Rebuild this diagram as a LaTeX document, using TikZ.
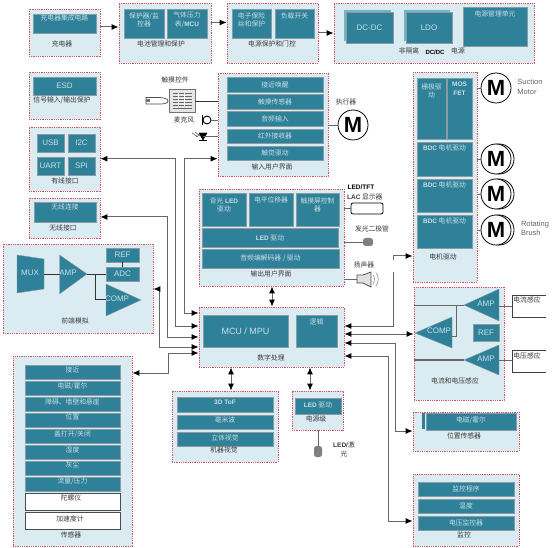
\documentclass[tikz,border=0pt]{standalone}
\usepackage{fontspec}
\setmainfont{Noto Sans CJK SC}
\newfontfamily\latn{Liberation Sans}
\usetikzlibrary{arrows.meta,calc}
\definecolor{panelfill}{HTML}{DAEBF2}
\definecolor{paneledge}{HTML}{D4505F}
\definecolor{teal}{HTML}{2E8199}
\definecolor{tealedge}{HTML}{8A9CA3}
\definecolor{blktext}{HTML}{C9DFE6}
\definecolor{lbltext}{HTML}{3A3A3A}
\definecolor{wire}{HTML}{666666}
\tikzset{
  panelbox/.style={draw=paneledge,fill=panelfill,line width=0.8pt,dash pattern=on 1pt off 0.8pt,inner sep=0pt},
  blockbox/.style={draw=tealedge,fill=teal,line width=0.9pt,inner sep=0pt},
  whitebox/.style={draw=black!70,fill=white,line width=0.9pt,inner sep=0pt},
  blocktext/.style={text=blktext,font=\fontsize{6.8}{8.6}\selectfont,align=center,inner sep=0pt},
  lbl/.style={text=lbltext,font=\fontsize{6.8}{8.6}\selectfont,align=center,inner sep=0pt},
  enlbl/.style={text=black!60,font=\fontsize{7.5}{9.5}\selectfont\latn,align=left,inner sep=0pt},
  latintext/.style={text=blktext,font=\fontsize{8}{9}\selectfont\latn,inner sep=0pt},
  tri/.style={fill=teal,draw=tealedge,line width=0.4pt},
  wireline/.style={draw=wire,line width=0.9pt},
  conn/.style={draw=wire,line width=1pt,-{Latex[black,length=7pt,width=6pt]}},
  conn2/.style={draw=wire,line width=1pt,{Latex[black,length=7pt,width=6pt]}-{Latex[black,length=7pt,width=6pt]}},
  motor/.style={circle,draw=black,fill=white,line width=0.8pt,minimum size=30pt,inner sep=0pt,font=\fontsize{22}{22}\selectfont\latn\bfseries},
}
\newcommand\bfl[1]{{\latn\bfseries\fontsize{6.5}{8}\selectfont #1}}
\newcommand\pnl[5]{%
  \pgfmathsetmacro\pw{#4-#2}\pgfmathsetmacro\ph{#5-#3}%
  \pgfmathsetmacro\cx{(#2+#4)/2}\pgfmathsetmacro\cy{(#3+#5)/2}%
  \node[panelbox,minimum width=\pw pt,minimum height=\ph pt] (#1) at (\cx,\cy) {};}
% centred text
\newcommand\blk[6]{%
  \pgfmathsetmacro\pw{#4-#2}\pgfmathsetmacro\ph{#5-#3}%
  \pgfmathsetmacro\cx{(#2+#4)/2}\pgfmathsetmacro\cy{(#3+#5)/2}%
  \node[blockbox,minimum width=\pw pt,minimum height=\ph pt,blocktext] (#1) at (\cx,\cy) {#6};}
% text at a given y
\newcommand\blkt[7]{%
  \pgfmathsetmacro\pw{#4-#2}\pgfmathsetmacro\ph{#5-#3}%
  \pgfmathsetmacro\cx{(#2+#4)/2}\pgfmathsetmacro\cy{(#3+#5)/2}%
  \node[blockbox,minimum width=\pw pt,minimum height=\ph pt] (#1) at (\cx,\cy) {};
  \node[blocktext] (#1t) at (\cx,#6) {#7};}
% latin centred text
\newcommand\blkl[6]{%
  \pgfmathsetmacro\pw{#4-#2}\pgfmathsetmacro\ph{#5-#3}%
  \pgfmathsetmacro\cx{(#2+#4)/2}\pgfmathsetmacro\cy{(#3+#5)/2}%
  \node[blockbox,minimum width=\pw pt,minimum height=\ph pt,latintext] (#1) at (\cx,\cy) {#6};}
\begin{document}
\begin{tikzpicture}[x=1pt,y=-1pt]
\fill[white] (0,0) rectangle (557,548);
\useasboundingbox (0,0) rectangle (557,548);

% ---------- panels
\pnl{charger}{29}{9}{100}{56}
\pnl{battery}{119}{3}{211}{63}
\pnl{protect}{227}{3}{318}{63}
\pnl{dcdc}{334}{3}{534}{63}
\pnl{esdp}{29}{72}{100}{119}
\pnl{wired}{29}{127}{100}{191}
\pnl{wireless}{29}{198}{100}{238}
\pnl{afe}{3}{244}{153}{333}
\pnl{sensors}{13}{356}{132}{546}
\pnl{inputui}{218}{73}{328}{176}
\pnl{outputui}{199}{189}{344}{286}
\pnl{digital}{199}{307}{344}{367}
\pnl{vision}{172}{391}{278}{462}
\pnl{powerlvl}{292}{391}{343}{430}
\pnl{motordrv}{413}{72}{477}{282}
\pnl{sense}{414}{287}{504}{400}
\pnl{position}{413}{412}{519}{451}
\pnl{monitor}{413}{474}{519}{546}

% ---------- charger, battery, protection
\blkt{b1}{33}{14}{96}{33}{18}{充电器集成电路}
\node[lbl] (l1) at (62,44) {充电器};
\blkt{b2}{124}{9}{164}{38}{20}{保护器/监\\控器}
\blkt{b3}{167}{9}{207}{38}{20}{气体压力\\表/\bfl{MCU}}
\node[lbl] (l2) at (161,44) {电池管理和保护};
\blkt{b4}{232}{9}{271}{38}{20}{电子保险\\丝和保护}
\blkt{b5}{275}{9}{314}{38}{16}{负载开关}
\node[lbl] (l3) at (272,44) {电源保护和门控};

% ---------- DC/DC
\fill[teal!55!panelfill] (344,10) rectangle (391,41);
\blkl{b6}{346}{12}{393}{43}{DC-DC}
\fill[teal!55!panelfill] (404,10) rectangle (450,41);
\blkl{b7}{406}{12}{452}{43}{LDO}
\blkt{b8}{463}{7}{527}{46}{14}{电源管理单元}
\node[lbl] (l4a) at (409,51) {非隔离};
\node[text=black,inner sep=0pt,font=\latn\bfseries\fontsize{6}{7}\selectfont] (l4b) at (435,52) {DC/DC};
\node[lbl] (l4c) at (458,51) {电源};

% ---------- ESD, wired, wireless
\blkl{b9}{33}{77}{96}{95}{ESD}
\node[lbl] (l5) at (62,100) {信号输入/输出保护};
\blkl{b10}{37}{134}{64}{152}{USB}
\blkl{b11}{68}{134}{95}{152}{I2C}
\blkl{b12}{37}{157}{64}{175}{UART}
\blkl{b13}{68}{157}{95}{175}{SPI}
\node[lbl] (l6) at (65,181) {有线接口};
\blkt{b14}{34}{202}{96}{222}{207}{无线连接}
\node[lbl] (l7) at (63,228) {无线接口};

% ---------- analog front end
\draw[tri] (17,255) coordinate (muxa) -- (44,259) -- (44,289) -- (17,293) -- cycle;
\node[latintext] (muxt) at (30,273) {MUX};
\coordinate (muxr) at (44,274);
\coordinate (ampin) at (60,274);
\coordinate (ampout) at (87,274);
\draw[tri] (59.5,255) -- (87,274) -- (59.5,294) -- cycle;
\node[latintext] (ampt) at (68,273) {AMP};
\blkl{b15}{106}{248}{139}{262}{REF}
\blkl{b16}{106}{267}{139}{281}{ADC}
\draw[tri] (106,284) -- (141,300) -- (106,316) -- cycle;
\node[latintext] (compt) at (117,299) {COMP};
\node[lbl] (l8) at (75,321) {前端模拟};
\draw[black!80,line width=0.8pt] (muxr) -- (ampin);
\draw[black!80,line width=0.8pt] (ampout) -- (b16.west |- ampout);
\coordinate (compin) at (106,299);
\draw[black!80,line width=0.8pt] (95,274) -- (95,299) -- (compin);
\draw[black!80,line width=0.8pt] (b15) -- (b16);

% ---------- sensors
\blkt{s1}{25}{365}{120}{379}{370}{接近}
\blkt{s2}{25}{381}{120}{395}{386}{电磁/霍尔}
\blkt{s3}{25}{397}{120}{411}{402}{障碍、墙壁和悬崖}
\blkt{s4}{25}{413}{120}{427}{417}{位置}
\blkt{s5}{25}{429}{120}{443}{434}{盖打开/关闭}
\blkt{s6}{25}{445}{120}{459}{450}{湿度}
\blkt{s7}{25}{461}{120}{475}{465}{灰尘}
\blkt{s8}{25}{477}{120}{491}{481}{流量/压力}
\node[whitebox,minimum width=95pt,minimum height=17pt] (s9) at (72.5,501.5) {};
\node[lbl] (s9t) at (71,498) {陀螺仪};
\node[whitebox,minimum width=95pt,minimum height=17pt] (s10) at (72.5,520.5) {};
\node[lbl] (s10t) at (70,519) {加速度计};
\node[lbl] (l9) at (71,535) {传感器};

% ---------- input UI
\blk{i1}{227}{77}{323}{92}{接近唤醒}
\blk{i2}{227}{94}{323}{109}{触摸传感器}
\blk{i3}{227}{111}{323}{126}{音频输入}
\blk{i4}{227}{129}{323}{143}{红外接收器}
\blk{i5}{227}{146}{323}{160}{触觉驱动}
\node[lbl] (l10) at (272,167) {输入用户界面};

% ---------- output UI
\blkt{o1}{202}{193}{246}{226}{205}{背光 \bfl{LED}\\驱动}
\blkt{o2}{249}{193}{293}{226}{200}{电平位移器}
\blkt{o3}{296}{193}{339}{226}{205}{触摸屏控制\\器}
\blk{o4}{202}{228}{338}{247}{\bfl{LED} 驱动}
\blk{o5}{202}{249}{339}{268}{音频编解码器 / 驱动}
\node[lbl] (l11) at (271,274) {输出用户界面};

% ---------- digital
\blkl{d1}{203}{315}{288}{347}{\fontsize{9}{10}\selectfont MCU / MPU}
\blkt{d2}{296}{315}{337}{347}{322}{逻辑}
\node[lbl] (l12) at (271,358) {数字处理};

% ---------- vision
\blkt{v1}{177}{397}{273}{412}{402}{\bfl{3D ToF}}
\blkt{v2}{177}{415}{273}{429}{420}{毫米波}
\blkt{v3}{177}{432}{273}{446}{438}{立体视觉}
\node[lbl] (l13) at (224,450) {机器视觉};

% ---------- power stage
\blkt{p1}{295}{398}{341}{414}{405}{\bfl{LED} 驱动}
\node[lbl] (l14) at (316,419) {电源级};

% ---------- motor drive
\blkt{m1}{417}{78}{446}{139}{91}{栅极驱\\动}
\blkt{m2}{447}{78}{472}{139}{89}{\bfl{MOS}\\\bfl{FET}}
\blkt{m3}{417}{142}{472}{176}{148}{\bfl{BDC} 电机驱动}
\blkt{m4}{417}{179}{472}{212}{185}{\bfl{BDC} 电机驱动}
\blkt{m5}{417}{215}{472}{248}{221}{\bfl{BDC} 电机驱动}
\node[lbl] (l15) at (443,257) {电机驱动};

% ---------- current / voltage sensing
\draw[tri] (464,305) -- (499,289) -- (499,321) -- cycle;
\node[latintext] (amp1t) at (486,304) {AMP};
\draw[tri] (415,333) -- (452,317) -- (452,348) -- cycle;
\node[latintext] (compt2) at (439,331) {COMP};
\blkl{b17}{473}{324}{499}{341}{REF}
\draw[tri] (464,360) -- (499,345) -- (499,375) -- cycle;
\node[latintext] (amp2t) at (486,359) {AMP};
\node[lbl] (l16) at (455,381) {电流和电压感应};
\coordinate (a1in) at (464,305);
\coordinate (a2in) at (464,360);
\coordinate (c1in) at (452,336);
\draw[wireline] (sense.west |- a1in) -- (a1in);
\draw[wireline,line width=1.3pt] (sense.west |- a2in) -- (a2in);
\draw[wireline] (456,305) -- (456,336) -- (c1in);
\coordinate (isense) at (512,306);
\coordinate (vsense) at (512,360);
\draw[wireline] (499,306) -- (isense);
\draw[wireline] (499,360) -- (vsense);
\draw[black!75,line width=0.7pt] (546,295) -- (512,295) -- (512,317) -- (546,317);
\draw[black!75,line width=0.7pt] (546,350) -- (512,350) -- (512,372) -- (546,372);
\node[lbl] (l17) at (527,300) {电流感应};
\node[lbl] (l18) at (527,356) {电压感应};

% ---------- position
\fill[teal] (422,413) rectangle (425,429);
\blkt{q1}{426}{413}{516}{430}{420}{电磁/霍尔}
\node[lbl] (l19) at (464,436) {位置传感器};

% ---------- monitor
\blk{r1}{418}{482}{514}{496}{监控程序}
\blk{r2}{418}{499}{514}{513}{温度}
\blk{r3}{418}{516}{514}{530}{电压监控器}
\node[lbl] (l20) at (464,535) {监控};

% ---------- connectors between panels
\draw[conn] (charger.east |- 0,27) -- (battery.west |- 0,27);
\draw[conn] (battery.east |- 0,22.5) -- (protect.west |- 0,22.5);
\draw[conn] (protect.east |- 0,33) -- (dcdc.west |- 0,33);

\draw[conn] (175,326) -- (175,158.7) -- (wired.east |- 0,158.7);
\draw[conn] (175,326) -- (digital.west |- 0,326);
\draw[conn] (184,313) -- (184,158.7) -- (inputui.west |- 0,158.7);
\draw[conn] (184,313) -- (digital.west |- 0,313);
\draw[conn] (167,337) -- (167,217) -- (wireless.east |- 0,217);
\draw[conn] (167,337) -- (digital.west |- 0,337);
\draw[conn2] (afe.east |- 0,289) -- (159,289) -- (159,347) -- (digital.west |- 0,347);
\draw[conn2] (sensors.east |- 0,373) -- (168,373) -- (168,353) -- (digital.west |- 0,353);

\draw[conn2] (outputui.south -| 272,0) -- (digital.north -| 272,0);
\draw[conn2] (digital.south -| 231,0) -- (vision.north -| 231,0);
\draw[conn2] (digital.south -| 310,0) -- (powerlvl.north -| 310,0);

\draw[wire,line width=1pt,{Latex[black,length=7pt,width=6pt]}-] (digital.east |- 0,326) -- (393,326) -- (393,272);
\draw[conn] (393,260) -- (393,256) -- (motordrv.west |- 0,256);
\draw[conn2] (digital.east |- 0,334) -- (sense.west |- 0,334);
\draw[conn2] (digital.east |- 0,343) -- (395,343) -- (395,431) -- (position.west |- 0,431);
\draw[conn2] (digital.east |- 0,356) -- (388,356) -- (388,521) -- (monitor.west |- 0,521);

% ---------- touch control
\node[lbl] (t1) at (175,80) {触摸控件};
\node[draw=black!55,fill=black!10,line width=0.8pt,minimum width=26pt,minimum height=23pt,inner sep=0pt] (keypad) at (182,100.5) {};
\foreach \yy in {93,96,99,102,105}{\draw[black!60,line width=0.7pt] (173,\yy) -- (192,\yy);}
\foreach \xx in {178,184}{\draw[white,line width=0.5pt] (\xx,92) -- (\xx,106);}
\draw[black!60,line width=1pt] (173,109) -- (192,109);
\draw[black!70,fill=white,line width=0.7pt] (146,97.5) -- (160,97.5) .. controls (165,98) and (168,99) .. (168,101) .. controls (168,103) and (165,104) .. (160,104) -- (146,104) -- cycle;
\fill[black!55] (146,99.5) rectangle (150,102);
\draw[black!80,line width=0.9pt] (keypad.east |- 0,101) -- (inputui.west |- 0,101);

\node[lbl] (t2) at (184,120) {麦克风};
\node[circle,draw=black,fill=white,line width=0.9pt,minimum size=8pt,inner sep=0pt] (mic) at (207,120) {};
\draw[black,line width=1pt] (202,115) -- (202,125);
\draw[wireline] (mic) -- (inputui.west |- mic);

\coordinate (diode) at (203,136);
\draw[black,fill=black] (199,133) -- (207,133) -- (203,140) -- cycle;
\draw[black,line width=0.8pt] (199,140) -- (207,140);
\draw[black!60,line width=0.6pt,-{Latex[length=2pt,width=2pt]}] (192,133) -- (198,137);
\draw[black!60,line width=0.6pt,-{Latex[length=2pt,width=2pt]}] (195,132) -- (200,136);
\draw[wireline] (diode) -- (inputui.west |- diode);

% ---------- actuator
\node[lbl] (t3) at (346,102) {执行器};
\node[motor] (ma) at (353,125) {M};
\draw[wireline] (inputui.east |- ma) -- (ma);

% ---------- motors
\node[motor] (mm1) at (496,88) {M};
\draw[wireline] (motordrv.east |- mm1) -- (mm1);
\node[enlbl] (t4) at (530,87) {Suction\\Motor};
\node[circle,draw=black,fill=white,line width=0.8pt,minimum size=30pt] (mm2b) at (499,159) {};
\node[motor] (mm2) at (496,159) {M};
\draw[wireline] (motordrv.east |- mm2) -- (mm2);
\node[circle,draw=black,fill=white,line width=0.8pt,minimum size=30pt] (mm3b) at (499,194) {};
\node[motor] (mm3) at (496,194) {M};
\draw[wireline] (motordrv.east |- mm3) -- (mm3);
\node[circle,draw=black,fill=white,line width=0.8pt,minimum size=30pt] (mm4b) at (499,230) {};
\node[motor] (mm4) at (496,230) {M};
\draw[wireline] (motordrv.east |- mm4) -- (mm4);
\node[enlbl] (t5) at (535,228.5) {Rotating\\Brush};

% ---------- display, LED, speaker
\node[inner sep=0pt,font=\latn\bfseries\fontsize{6.5}{8}\selectfont,text=black] (t6) at (361,187.5) {LED/TFT};
\node[lbl,anchor=west] (t7) at (347,197) {\bfl{LAC} 显示器};
\node[draw=black,fill=white,rounded corners=2pt,line width=0.8pt,minimum width=32pt,minimum height=11pt,inner sep=0pt] (lcd) at (367,208.5) {};
\draw[wireline] (outputui.east |- lcd) -- (lcd);

\node[lbl] (t8) at (372,229) {发光二极管};
\node[fill=black!50,rounded corners=2.5pt,minimum width=10pt,minimum height=8pt,inner sep=0pt] (led1) at (368,242) {};
\draw[wireline] (outputui.east |- led1) -- (led1);

\node[lbl] (t9) at (364,265) {扬声器};
\coordinate (spk) at (357,279);
\draw[black!70,fill=black!12,line width=0.8pt] (357,275) -- (363,275) -- (371,272) -- (371,287) -- (363,283) -- (357,283) -- cycle;
\draw[black!40,line width=0.7pt] (373,275) .. controls (375,277) and (375,281) .. (373,284);
\draw[black!40,line width=0.7pt] (376,273) .. controls (379,276) and (379,282) .. (376,286);
\draw[wireline] (outputui.east |- spk) -- (spk);

\node[fill=black!50,rounded corners=2.5pt,minimum width=8pt,minimum height=11pt,inner sep=0pt] (led2) at (318,451.5) {};
\draw[wireline] (powerlvl.south -| led2) -- (led2);
\node[lbl,anchor=north west] (t10) at (333,442) {\bfl{LED/}激\\光};
\end{tikzpicture}
\end{document}
